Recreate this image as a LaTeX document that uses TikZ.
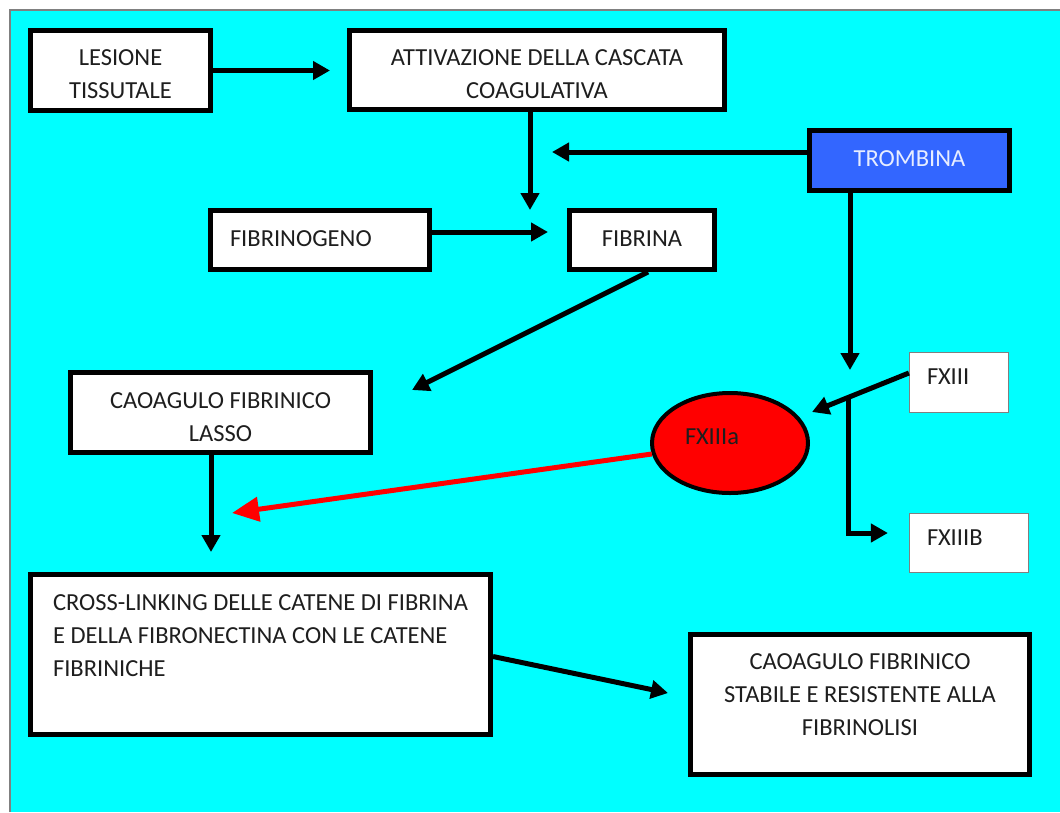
\documentclass[tikz,border=0pt]{standalone}
\usepackage{fontspec}
\setmainfont{Carlito}
\usepackage{xcolor}
\usepackage{tikz}
\usetikzlibrary{arrows.meta,calc,shapes.geometric}
\definecolor{sky}{HTML}{00FFFF}
\definecolor{royal}{HTML}{3366FF}
\definecolor{blood}{HTML}{FF0000}
\definecolor{ink}{HTML}{1E1E1E}
\definecolor{rim}{HTML}{808080}

\begin{document}
\begin{tikzpicture}[x=1pt,y=-1pt,
    box/.style={draw=black, line width=5pt, fill=white, text=ink, inner sep=0pt,
      font=\fontsize{24.5}{33}\selectfont, align=center},
    thinbox/.style={draw=rim, line width=1.2pt, fill=white, text=ink, inner sep=0pt,
      font=\fontsize{24.5}{33}\selectfont, align=left, text height=16pt},
    arr/.style={line width=5pt, -{Triangle[length=17pt,width=18pt]}},
    redarr/.style={draw=blood, line width=5pt, -{Triangle[length=27pt,width=24pt]}}]
  \useasboundingbox (0,0) rectangle (1060,812);
  \fill[white] (0,0) rectangle (1060,812);
  \fill[sky] (10,10) rectangle (1060,812);
  \draw[rim, line width=1.5pt] (10,812) -- (10,10) -- (1060,10);

  % boxes
  \node[box, text height=55pt, text depth=0pt, minimum width=180pt, minimum height=80pt] (lesione) at (120.5,70.5) {LESIONE\\TISSUTALE};
  \node[box, text height=56pt, text depth=0pt, minimum width=375pt, minimum height=79pt] (attiv) at (537,70) {ATTIVAZIONE DELLA CASCATA\\COAGULATIVA};
  \node[box, text height=16pt, text depth=5pt, fill=royal, text=white!88!royal, minimum width=200pt, minimum height=60pt] (trombina) at (909.5,160.5) {TROMBINA};
  \node[box, text height=16pt, text depth=4pt, align=left, text width=180pt, minimum width=219pt, minimum height=59pt] (fibrinogeno) at (320,240) {FIBRINOGENO};
  \node[box, text height=16pt, text depth=4pt, minimum width=145pt, minimum height=59pt] (fibrina) at (642,240) {FIBRINA};
  \node[box, text height=57pt, text depth=0pt, minimum width=300pt, minimum height=80pt] (lasso) at (220.5,412.5) {CAOAGULO FIBRINICO\\LASSO};
  \node[thinbox, text depth=13pt, text width=64pt, minimum width=99pt, minimum height=60pt] (fxiii) at (959,382.5) {FXIII};
  \node[thinbox, text depth=12pt, text width=84pt, minimum width=119pt, minimum height=59pt] (fxiiib) at (969,543) {FXIIIB};
  \node[ellipse, draw=black, line width=4pt, fill=blood, minimum width=156pt, minimum height=100pt] (fxiiia) at (730,443) {};
  \node[text=ink, font=\fontsize{24.5}{33}\selectfont] (fxiiialbl) at ([xshift=-18pt,yshift=6pt]fxiiia.center) {FXIIIa};
  \node[box, text height=43pt, text depth=0pt, align=left, minimum width=460pt, minimum height=160pt] (cross) at (260.5,654.5)
    {CROSS-LINKING DELLE CATENE DI FIBRINA\\E DELLA FIBRONECTINA CON LE CATENE\\FIBRINICHE};
  \node[box, text height=61pt, text depth=0pt, minimum width=339pt, minimum height=140pt] (stabile) at (860,704.5)
    {CAOAGULO FIBRINICO\\STABILE E RESISTENTE ALLA\\FIBRINOLISI};

  % arrows
  \coordinate (dropA) at (530,210);
  \coordinate (dropB) at (552,152);
  \coordinate (dropC) at (412,390);
  \coordinate (dropD) at (850,370);
  \coordinate (dropE) at (812,412);
  \coordinate (fork) at (848,397);
  \coordinate (dropF) at (232,513);
  \coordinate (dropG) at (668,693);
  \draw[arr, shorten >=17pt] (lesione.east) -- (lesione.east -| attiv.west);
  \draw[arr] (attiv.south -| dropA) -- (dropA);
  \draw[arr] (trombina.west |- dropB) -- (dropB);
  \draw[arr, shorten >=19pt] ([yshift=8pt]fibrinogeno.east) -- ([yshift=8pt]fibrinogeno.east -| fibrina.west);
  \draw[arr] ([xshift=6pt]fibrina.south) -- (dropC);
  \draw[arr] (trombina.south -| dropD) -- (dropD);
  \draw[arr] ([yshift=9.5pt]fxiii.west) -- (dropE);
  \draw[arr, shorten >=21pt] (fork) |- ([yshift=10pt]fxiiib.west);
  \draw[redarr] (fxiiia.188) -- (dropF);
  \draw[arr, shorten >=20pt] ([xshift=-9.5pt]lasso.south) -- ([xshift=-9.5pt]lasso.south |- cross.north);
  \draw[arr] ([yshift=-2pt]cross.east) -- (dropG);
\end{tikzpicture}
\end{document}
